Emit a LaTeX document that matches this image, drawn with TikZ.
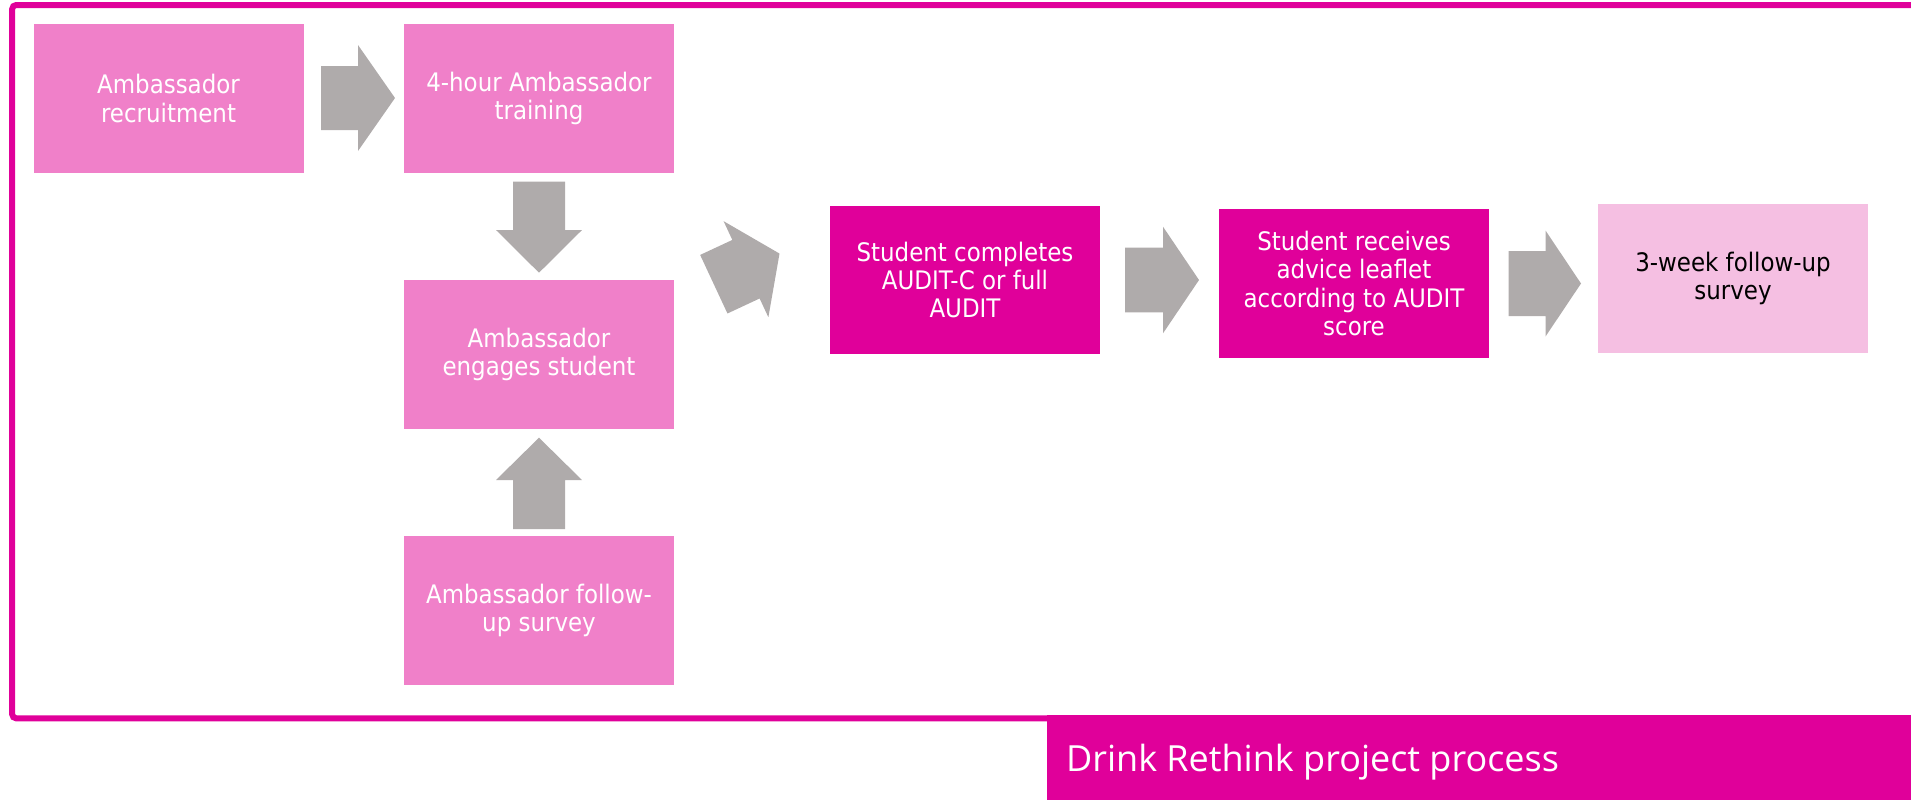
\documentclass[tikz,border=0pt]{standalone}
\usepackage{fontspec}
\setmainfont{DejaVu Sans Condensed}
\newfontfamily\titlefont{Open Sans}
\definecolor{magdark}{HTML}{E0009A}
\definecolor{maglight}{HTML}{F080C9}
\definecolor{magpale}{HTML}{F5BFE2}
\definecolor{arrowgray}{HTML}{AFABAB}
\tikzset{
  boxbase/.style={rectangle, inner sep=0pt, minimum width=135pt, minimum height=74.25pt,
    align=center, font=\fontsize{12.75pt}{14.2pt}\selectfont},
  lbox/.style={boxbase, fill=maglight, text=white},
  dbox/.style={boxbase, fill=magdark, text=white},
  pbox/.style={boxbase, fill=magpale, text=black},
  pics/blkarr/.style n args={4}{code={
    \fill[arrowgray] (0,-#1) -- (#3,-#1) -- (#3,-#2) -- ({#3+#4},0) -- (#3,#2) -- (#3,#1) -- (0,#1) -- cycle;
  }}
}
\begin{document}
\begin{tikzpicture}[x=0.5pt, y=-0.5pt]
\useasboundingbox (0,0) rectangle (1911,800);
% frame
\draw[magdark, line width=3pt, rounded corners=2pt] (1920,5) -- (12.2,5) -- (12.2,718.3) -- (1920,718.3);
% title
\fill[magdark] (1046.5,715) rectangle (1911,800);
\node[anchor=base west, inner sep=0pt, text=white, font=\titlefont\fontsize{18pt}{22pt}\selectfont] (title) at (1065.7,771.7) {Drink Rethink project process};
% boxes
\node[lbox] (b1) at (168.5,98.3) {Ambassador\\recruitment};
\node[lbox] (b2) at (539,98.3) {4-hour Ambassador\\training};
\node[lbox] (b3) at (539,354.5) {Ambassador\\engages student};
\node[lbox] (b4) at (539,610.5) {Ambassador follow-\\up survey};
\node[dbox] (b5) at (965,280) {Student completes\\AUDIT-C or full\\AUDIT};
\node[dbox] (b6) at (1354,283.3) {Student receives\\advice leaflet\\according to AUDIT\\score};
\node[pbox] (b7) at (1733,278.3) {3-week follow-up\\survey};
% arrows
\pic at (321,98) {blkarr={32}{53}{37}{37}};
\pic[rotate=-90] at (539,181.7) {blkarr={26}{43}{48.3}{42.7}};
\pic[rotate=90] at (539,529) {blkarr={26}{43}{49}{42.3}};
\pic[rotate=25] at (713.8,284.2) {blkarr={32.3}{53}{35.5}{37}};
\pic at (1125,280) {blkarr={32.3}{53.3}{38}{36}};
\pic at (1508.5,283.5) {blkarr={32.5}{53}{37}{35.5}};
\end{tikzpicture}
\end{document}
